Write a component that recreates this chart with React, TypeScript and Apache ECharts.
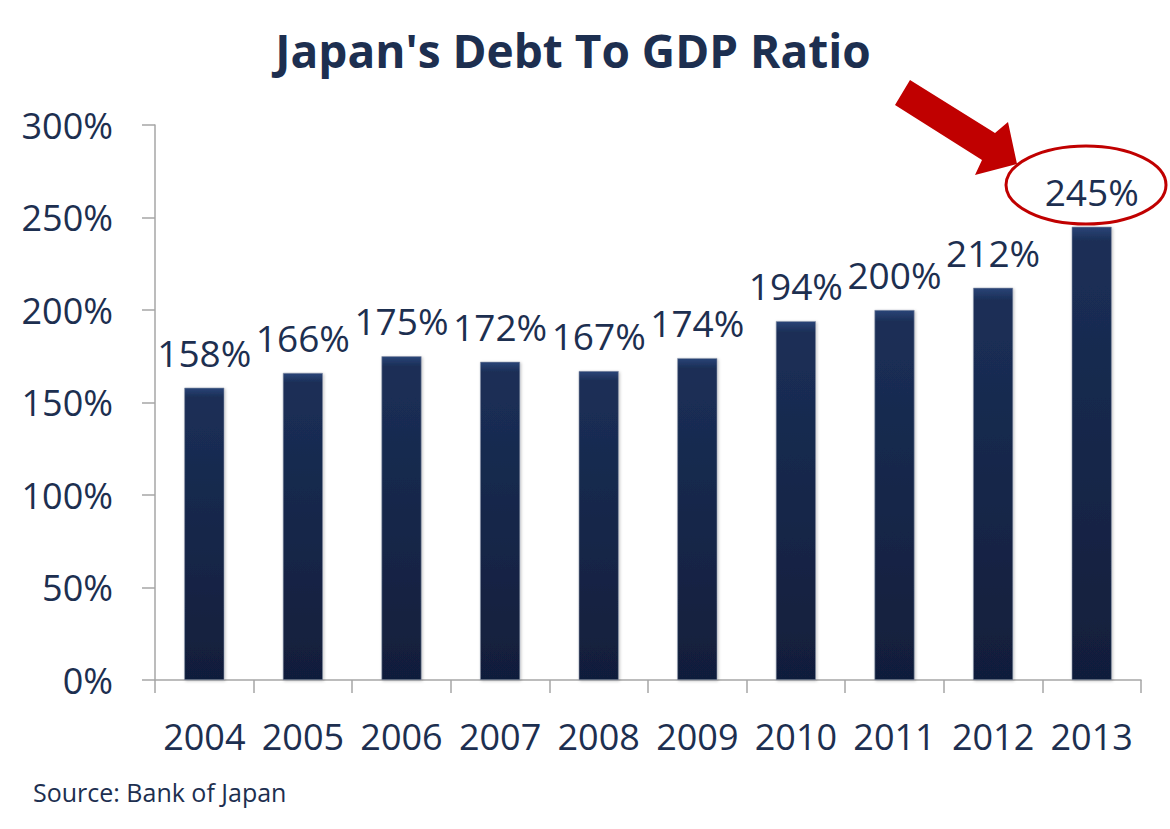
import React, { useEffect, useRef } from "react";
import * as echarts from "echarts";

const years = ["2004", "2005", "2006", "2007", "2008", "2009", "2010", "2011", "2012", "2013"];
const debtRatio = [158, 166, 175, 172, 167, 174, 194, 200, 212, 245];
const yTicks = { min: 0, max: 300, interval: 50 };
const titleText = "Japan's Debt To GDP Ratio";
const sourceText = "Source: Bank of Japan";

const NAVY = "#1d2f50";
const FONT = "'Open Sans', 'Noto Sans', sans-serif";

export default function App() {
  const ref = useRef<HTMLDivElement>(null);
  useEffect(() => {
    document.body.style.margin = "0";
    const chart = echarts.init(ref.current!, null, { renderer: "svg" });
    chart.setOption({
      animation: false,
      backgroundColor: "#ffffff",
      title: {
        text: titleText,
        left: 568,
        top: 22,
        textAlign: "center",
        textStyle: { fontFamily: FONT, fontWeight: "bold", fontSize: 46, color: NAVY },
      },
      grid: { left: 155, right: 29, top: 125, bottom: 149, containLabel: false },
      xAxis: {
        type: "category",
        data: years,
        boundaryGap: true,
        axisLine: { show: true, lineStyle: { color: "#a6a6a6", width: 1.5 } },
        axisTick: { show: true, length: 13, inside: false, interval: 0, lineStyle: { color: "#a6a6a6", width: 1.5 } },
        axisLabel: { interval: 0, margin: 38, fontFamily: FONT, fontSize: 36, color: NAVY },
      },
      yAxis: {
        type: "value",
        min: yTicks.min,
        max: yTicks.max,
        interval: yTicks.interval,
        splitLine: { show: false },
        axisLine: { show: true, lineStyle: { color: "#a6a6a6", width: 1.5 } },
        axisTick: { show: true, length: 13, inside: false, lineStyle: { color: "#a6a6a6", width: 1.5 } },
        axisLabel: {
          margin: 42,
          fontFamily: FONT,
          fontSize: 36,
          color: NAVY,
          formatter: (v: number) => v + "%",
        },
      },
      series: [
        {
          type: "bar",
          data: debtRatio,
          barWidth: 40,
          itemStyle: {
            color: new echarts.graphic.LinearGradient(0, 0, 0, 1, [
              { offset: 0, color: "#2a4477" },
              { offset: 0.03, color: "#1b2f57" },
              { offset: 1, color: "#111e3b" },
            ]),
            borderColor: "#8a94a8",
            borderWidth: 0.6,
            shadowColor: "rgba(0,0,0,0.25)",
            shadowBlur: 3,
            shadowOffsetX: 1,
            shadowOffsetY: 1,
          },
          label: {
            show: true,
            position: "top",
            distance: 17,
            fontFamily: FONT,
            fontSize: 37,
            color: NAVY,
            formatter: (p: any) => p.value + "%",
          },
        },
      ],
      graphic: [
        {
          type: "ellipse",
          shape: { cx: 1086, cy: 185, rx: 80, ry: 39 },
          style: { fill: "none", stroke: "#c00000", lineWidth: 3 },
          z: 100,
        },
        {
          type: "polygon",
          shape: {
            points: [
              [910, 80],
              [995, 133],
              [1008, 122],
              [1017, 164],
              [975, 175],
              [982, 160],
              [895, 105],
            ],
          },
          style: { fill: "#c00000" },
          z: 100,
        },
        {
          type: "text",
          left: 33,
          top: 779,
          style: { text: sourceText, fontFamily: FONT, fontSize: 25, fill: NAVY },
        },
      ],
    });
    return () => chart.dispose();
  }, []);
  return <div ref={ref} style={{ width: 1170, height: 829 }} />;
}
